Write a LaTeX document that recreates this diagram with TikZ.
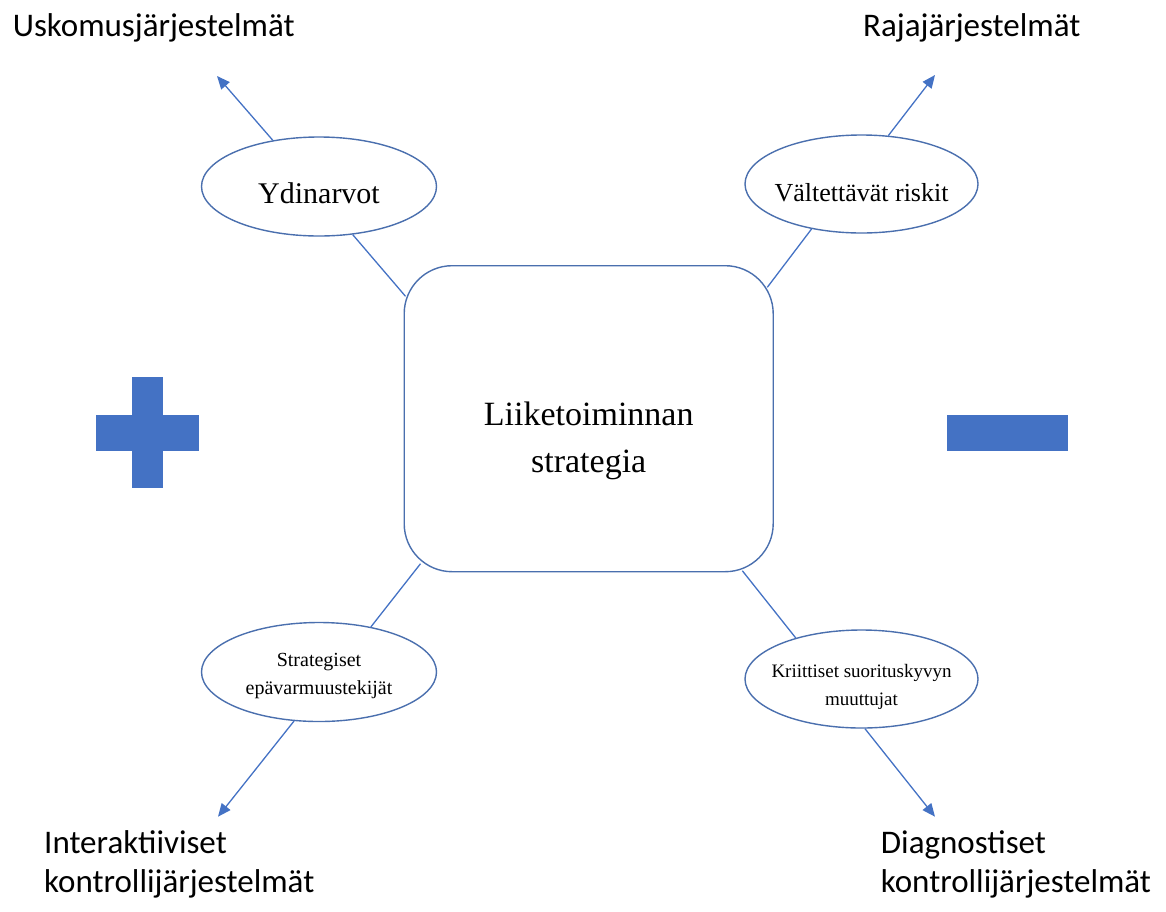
\documentclass[tikz,border=0pt]{standalone}
\usepackage{fontspec}
\setmainfont{Liberation Serif}
\newfontfamily\labfont{Carlito}
\usetikzlibrary{shapes.geometric,arrows.meta}
\definecolor{accent}{HTML}{4472C4}
\definecolor{edge}{HTML}{4A6FAE}
\tikzset{
  oval/.style={ellipse, draw=edge, line width=1.4pt, fill=white, inner xsep=-20pt, inner ysep=0pt,
               align=center, text depth=0pt},
  link/.style={draw=accent, line width=1.3pt},
  outarrow/.style={link, -{Triangle[length=13pt,width=11pt]}},
  cornerlabel/.style={font=\labfont\fontsize{33}{39.7}\selectfont, inner sep=0pt, align=left},
  signshape/.style={fill=accent, draw=none},
}
\begin{document}
\begin{tikzpicture}[x=1pt,y=-1pt]
\path[use as bounding box] (0,0) rectangle (1166,911);

% central box
\node[draw=edge, line width=1.4pt, rounded corners=48pt, minimum width=369pt, minimum height=306pt,
      inner sep=0pt, align=center, text height=107.2pt, text depth=0pt,
      font=\fontsize{34}{46.6}\selectfont] (strat) at (588.7,418.7) {Liiketoiminnan\\strategia};

% ellipses
\node[oval, minimum width=235pt, minimum height=99pt, text height=33pt,
      font=\fontsize{30}{36}\selectfont] (ydin) at (319,186.5) {Ydinarvot};
\node[oval, minimum width=233pt, minimum height=98pt, text height=35.4pt,
      font=\fontsize{26}{31}\selectfont] (valt) at (861.5,184) {Vältettävät riskit};
\node[oval, minimum width=235pt, minimum height=99pt, text height=44pt,
      font=\fontsize{20}{27.3}\selectfont] (strg) at (319,672) {Strategiset\\epävarmuustekijät};
\node[oval, minimum width=233pt, minimum height=98pt, text height=53.4pt,
      font=\fontsize{19}{28.7}\selectfont] (krit) at (861.5,679) {Kriittiset suorituskyvyn\\muuttujat};

% arrow end points
\coordinate (tl) at (217,76);
\coordinate (tr) at (935,75);
\coordinate (bl) at (218,816.7);
\coordinate (br) at (935,816.7);

% connectors
\draw[link] (ydin.-55) -- ([shift={(2,31.3)}]strat.north west);
\draw[link] (valt.222.7) -- ([shift={(-6.6,22.3)}]strat.north east);
\draw[link] (strg.41.4) -- ([shift={(17,-8.7)}]strat.south west);
\draw[link] (krit.148.6) -- ([shift={(-31.6,-1.7)}]strat.south east);

\draw[outarrow] (ydin.135.3) -- (tl);
\draw[outarrow] (valt.61.6) -- (tr);
\draw[outarrow] (strg.243.3) -- (bl);
\draw[outarrow] (krit.274) -- (br);

% corner labels
\node[cornerlabel, anchor=base west] (usk) at (12.7,36) {Uskomusjärjestelmät};
\node[cornerlabel, anchor=base west] (raja) at (863,36) {Rajajärjestelmät};
\node[cornerlabel, anchor=base west] (inter) at (44,892.7) {Interaktiiviset\\kontrollijärjestelmät};
\node[cornerlabel, anchor=base west] (diag) at (880.7,892.7) {Diagnostiset\\kontrollijärjestelmät};

% plus and minus signs
\path[signshape] (95.7,415) rectangle (199,450.7);
\path[signshape] (132.3,377) rectangle (162.7,488);
\path[signshape] (947,415) rectangle (1068,450.7);
\end{tikzpicture}
\end{document}
